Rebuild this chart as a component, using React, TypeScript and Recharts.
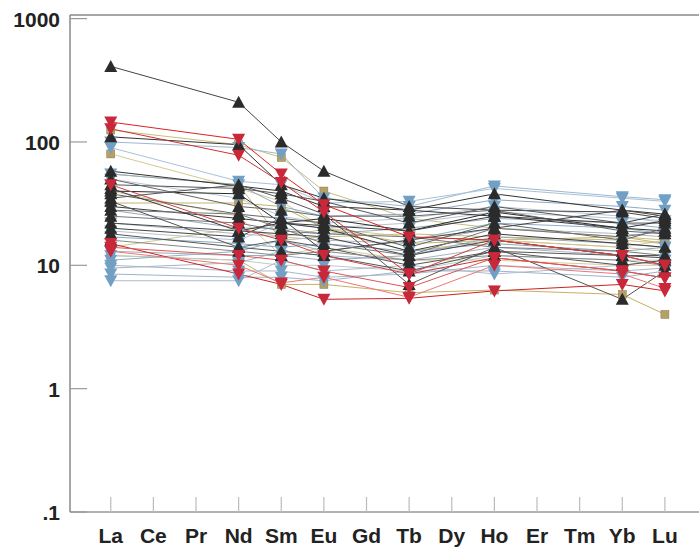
import { LineChart, Line, XAxis, YAxis, ReferenceLine } from "recharts"

const elements = ["La", "Ce", "Pr", "Nd", "Sm", "Eu", "Gd", "Tb", "Dy", "Ho", "Er", "Tm", "Yb", "Lu"]
const measured = ["La", "Nd", "Sm", "Eu", "Tb", "Ho", "Yb", "Lu"]
const yTicks = [0.1, 1, 10, 100, 1000]
const yTickLabels = [".1", "1", "10", "100", "1000"]

// chondrite-normalised values, order La Nd Sm Eu Tb Ho Yb Lu
const blackSamples = [
  [410, 210, 100, 58, 30, 28, 27, 24],
  [58, 44, 40, 30, 28, 38, 28, 26],
  [45, 42, 38, 33, 22, 30, 22, 22],
  [40, 38, 22, 24, 19, 27, 20, 19],
  [38, 26, 24, 22, 14, 22, 16, 20],
  [30, 24, 22, 20, 13, 18, 15, 14],
  [25, 22, 19, 18, 17, 14, 13, 12],
  [22, 19, 18, 17, 12, 16, 12, 11.5],
  [18, 14, 16, 14, 10, 13, 12, 12],
  [16, 13, 12, 13, 11, 12, 11, 10],
  [110, 95, 45, 35, 28, 25, 20, 23],
  [35, 45, 35, 26, 7, 14, 5.3, 9],
  [50, 30, 28, 25, 25, 28, 19, 18],
  [20, 17, 24, 13, 16, 20, 28, 25],
  [28, 26, 20, 15, 12, 20, 17, 19],
  [33, 14, 13, 12, 9, 13, 10, 11],
  [42, 19, 22, 21, 19, 25, 22, 26],
]
const blackLines = ["#444", "#333", "#555", "#2a2a2a", "#666", "#3a3a3a", "#777", "#444", "#555", "#888", "#333", "#555", "#666", "#444", "#777", "#555", "#3a3a3a"]

const redSamples = [
  [145, 105, 55, 31, 17, 16, 12, 10],
  [128, 78, 47, 27, 8.5, 11.5, 9, 7.9],
  [15, 8.5, 7, 5.3, 5.4, 6.2, 7, 6.2],
  [14, 12, 11, 9, 6.6, 11.5, 9, 7.9],
  [45, 20, 16, 12, 8.5, 16, 12, 10],
  [13, 10, 7.2, 8, 5.5, 10, 8.5, 6.5],
]
const redLines = ["#d22", "#c33", "#c22", "#d55", "#c44", "#e77"]

const blueSamples = [
  [100, 90, 80, 35, 30, 44, 36, 34],
  [90, 48, 45, 32, 33, 42, 35, 33],
  [55, 45, 30, 25, 26, 34, 30, 28],
  [50, 35, 25, 22, 24, 30, 25, 22],
  [28, 20, 20, 18, 20, 24, 22, 20],
  [22, 18, 17, 16, 15, 20, 18, 17],
  [17, 15, 14, 15, 13, 15, 13, 14],
  [12, 11, 10, 10, 9, 12, 11, 11],
  [10, 9, 9, 8, 8.5, 10, 9, 9.5],
  [8.5, 8, 8, 7.5, 9, 9, 8, 9],
  [7.5, 7.5, 11, 9, 10, 8.5, 10, 11],
  [13, 12, 12, 11, 12, 17, 15, 14],
  [9.5, 10.5, 13, 12, 11, 14, 12, 12],
  [11, 13, 16, 13, 16, 22, 20, 18],
  [19, 16, 22, 20, 22, 27, 24, 23],
]
const blueLines = ["#9bb8d2", "#a9c2d6", "#8fa9c4", "#b6c8d8", "#9ab", "#a8b8c8", "#8aa6c0", "#bcc", "#aab8c8", "#9cb4cc", "#b0bccc", "#99aabb", "#a4b6c6", "#8fb0c8", "#b4c4d4"]

const tanSamples = [
  [125, 95, 75, 40, 24, 20, 17, 16],
  [80, 42, 33, 20, 17, 16, 14, 16],
  [32, 32, 30, 20, 15, 16, 17, 15],
  [14, 20, 17, 19.6, 13, 16, 14, 13],
  [12, 11, 7, 7, 6, 6.3, 5.8, 4.0],
  [40, 25, 12, 14, 11, 11, 10, 10],
  [55, 45, 16, 17, 18, 17, 16, 15],
]
const tanLines = ["#cbbd7a", "#d6ca90", "#c4b46e", "#d2c68a", "#c8b064", "#d8cc98", "#c9bb80"]

type Kind = "up" | "down" | "square"
type Series = { key: string; values: number[]; kind: Kind; fill: string; line: string }

const series: Series[] = [
  ...tanSamples.map((v, i) => ({ key: `t${i}`, values: v, kind: "square" as Kind, fill: "#b5a067", line: tanLines[i] })),
  ...blueSamples.map((v, i) => ({ key: `u${i}`, values: v, kind: "down" as Kind, fill: "#72a0c4", line: blueLines[i] })),
  ...blackSamples.map((v, i) => ({ key: `b${i}`, values: v, kind: "up" as Kind, fill: "#2b2b2b", line: blackLines[i] })),
  ...redSamples.map((v, i) => ({ key: `r${i}`, values: v, kind: "down" as Kind, fill: "#c8283a", line: redLines[i] })),
]

const rows = elements.map((el, i) => {
  const row: Record<string, number> = { x: i }
  const m = measured.indexOf(el)
  if (m >= 0) series.forEach((s) => (row[s.key] = s.values[m]))
  return row
})

const makeDot = (kind: Kind, fill: string) => (props: any) => {
  const { cx, cy, index } = props
  if (!Number.isFinite(cx) || !Number.isFinite(cy) || props.value == null) return <g key={`e${index}`} />
  if (kind === "square") return <rect key={`d${index}`} x={cx - 4} y={cy - 4} width={8} height={8} fill={fill} stroke="#8a7a4a" strokeWidth={0.5} />
  const w = 6.5
  const h = 11
  const pts =
    kind === "up"
      ? `${cx},${cy - h / 2 - 1} ${cx - w},${cy + h / 2} ${cx + w},${cy + h / 2}`
      : `${cx - w},${cy - h / 2} ${cx + w},${cy - h / 2} ${cx},${cy + h / 2 + 1}`
  return <polygon key={`d${index}`} points={pts} fill={fill} />
}

const font = "'Liberation Sans', Arial, sans-serif"

const XTick = (props: any) => {
  const { x, y, payload } = props
  return (
    <g>
      <line x1={x} x2={x} y1={y - 15} y2={y} stroke="#bbb" strokeWidth={1.2} />
      <text x={x} y={y + 31} textAnchor="middle" fontFamily={font} fontWeight="bold" fontSize={21} fill="#222">
        {elements[payload.value]}
      </text>
    </g>
  )
}

const YTick = (props: any) => {
  const { x, y, payload } = props
  const i = yTicks.indexOf(payload.value)
  return (
    <g>
      <line x1={x} x2={x + 17} y1={y} y2={y} stroke="#999" strokeWidth={1.2} />
      <text x={x - 10} y={y + 8} textAnchor="end" fontFamily={font} fontWeight="bold" fontSize={21} fill="#222">
        {yTickLabels[i]}
      </text>
    </g>
  )
}

export default function App() {
  return (
    <div style={{ position: "absolute", left: 0, top: 0, background: "#fff" }}>
      <LineChart width={699} height={548} data={rows} margin={{ top: 15, right: 0, bottom: 0, left: 0 }}>
        <XAxis
          dataKey="x"
          type="number"
          domain={[-0.956, 13.8]}
          ticks={elements.map((_, i) => i)}
          tick={<XTick />}
          tickSize={0}
          tickMargin={0}
          tickLine={false}
          axisLine={{ stroke: "#999", strokeWidth: 1.5 }}
          height={36}
          allowDataOverflow
        />
        <YAxis
          type="number"
          scale="log"
          domain={[0.1, 1070]}
          ticks={yTicks}
          tick={<YTick />}
          tickSize={0}
          tickMargin={0}
          tickLine={false}
          axisLine={{ stroke: "#888", strokeWidth: 1.5 }}
          width={70}
          allowDataOverflow
        />
        <ReferenceLine y={1070} stroke="#888" strokeWidth={1.5} />
        {series.map((s) => (
          <Line
            key={s.key}
            dataKey={s.key}
            stroke={s.line}
            strokeWidth={1}
            connectNulls
            dot={makeDot(s.kind, s.fill)}
            activeDot={false}
            isAnimationActive={false}
          />
        ))}
      </LineChart>
    </div>
  )
}
